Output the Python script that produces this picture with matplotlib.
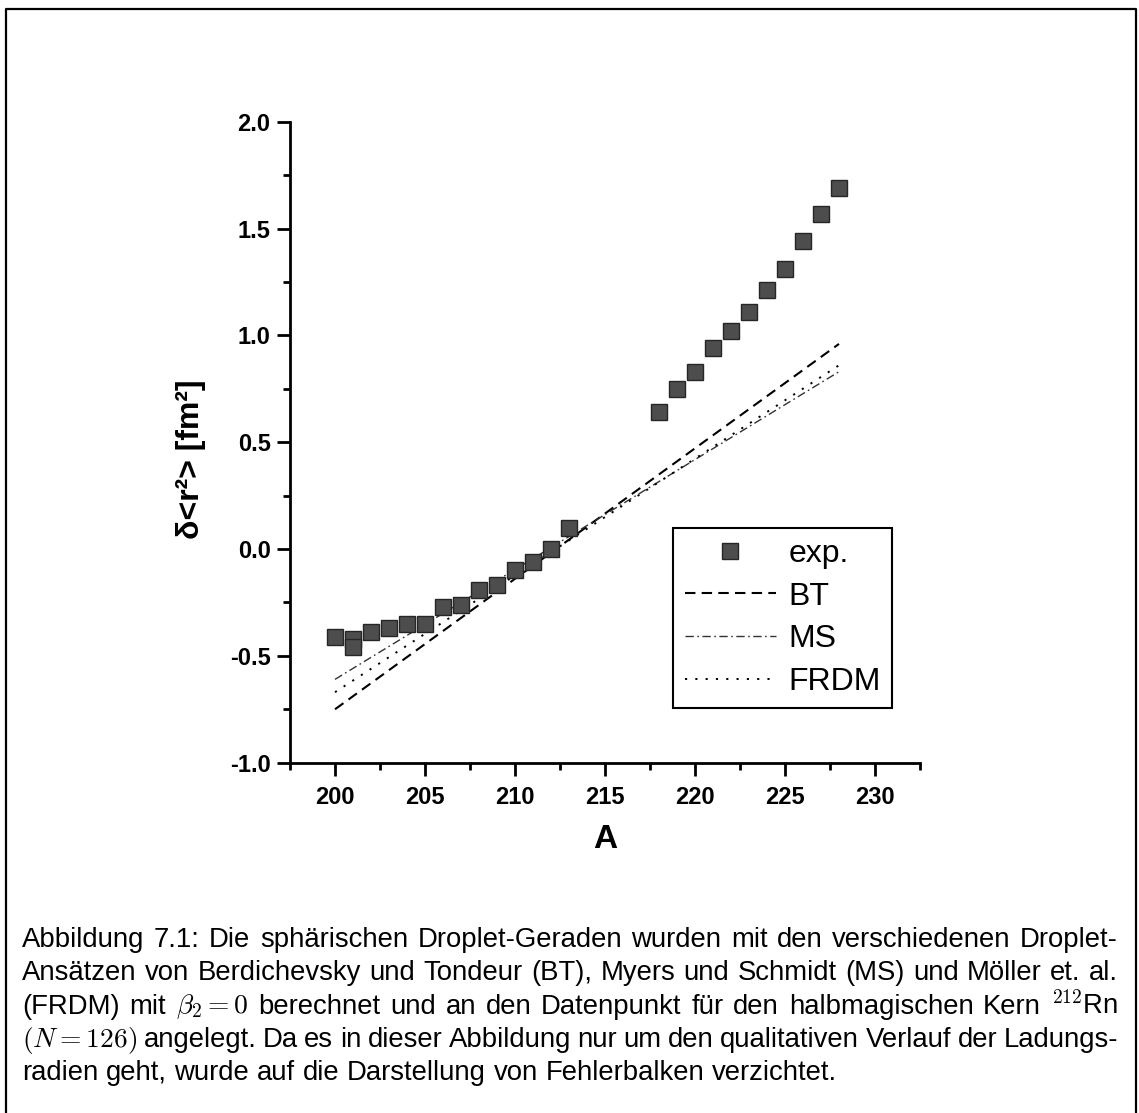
import numpy as np
import matplotlib
matplotlib.use("Agg")
from matplotlib import pyplot as plt
from matplotlib.lines import Line2D

plt.rcParams['font.family'] = ['Liberation Sans', 'DejaVu Sans']
plt.rcParams['mathtext.fontset'] = 'cm'
plt.rcParams['axes.unicode_minus'] = False

# experimental charge radii changes (relative to 212Rn)
a_exp = [200, 201, 201, 202, 203, 204, 205, 206, 207, 208, 209, 210, 211, 212, 213,
         218, 219, 220, 221, 222, 223, 224, 225, 226, 227, 228]
r2_exp = [-0.41, -0.42, -0.46, -0.39, -0.37, -0.35, -0.35, -0.27, -0.26, -0.19, -0.17,
          -0.10, -0.06, 0.0, 0.10,
          0.64, 0.75, 0.83, 0.94, 1.02, 1.11, 1.21, 1.31, 1.44, 1.57, 1.69]

# spherical droplet lines (end points)
a_drop = [200, 228]
r2_bt = [-0.75, 0.96]
r2_ms = [-0.61, 0.83]
r2_frdm = [-0.67, 0.86]

xticks = [200, 205, 210, 215, 220, 225, 230]
yticks = [-1.0, -0.5, 0.0, 0.5, 1.0, 1.5, 2.0]

caption = [
    "Abbildung 7.1: Die sphärischen Droplet-Geraden wurden mit den verschiedenen Droplet-",
    "Ansätzen von Berdichevsky und Tondeur (BT), Myers und Schmidt (MS) und Möller et. al.",
    r"(FRDM) mit $\beta_2 = 0$ berechnet und an den Datenpunkt für den halbmagischen Kern $^{212}$Rn",
    r"$(N = 126)$ angelegt. Da es in dieser Abbildung nur um den qualitativen Verlauf der Ladungs-",
    "radien geht, wurde auf die Darstellung von Fehlerbalken verzichtet.",
]

W, H = 1139, 1113
fig = plt.figure(figsize=(W / 100, H / 100), dpi=100)
ax = fig.add_axes([290 / W, 1 - 762.7 / H, 630 / W, 641 / H])

ax.plot(a_drop, r2_bt, color='black', lw=1.5, ls=(0, (5, 3.0)), label='BT')
ax.plot(a_drop, r2_ms, color='#333333', lw=1.0, ls=(0, (6, 2.5, 1.2, 2.5)), label='MS')
ax.plot(a_drop, r2_frdm, color='black', lw=1.4, ls=(0, (1.1, 4.2)), label='FRDM')
ax.plot(a_exp, r2_exp, ls='none', marker='s', ms=11, mfc='#4d4d4d', mec='#262626',
        mew=1.0, label='exp.', zorder=3)

ax.set_xlim(197.5, 232.5)
ax.set_ylim(-1.0, 2.0)
for s in ['top', 'right']:
    ax.spines[s].set_visible(False)
for s in ['left', 'bottom']:
    ax.spines[s].set_linewidth(2.0)

ax.set_xticks(xticks)
ax.set_xticks(np.arange(197.5, 233, 5), minor=True)
ax.set_yticks(yticks)
ax.set_yticks(np.arange(-0.75, 2.0, 0.5), minor=True)
ax.set_xticklabels([str(t) for t in xticks])
ax.set_yticklabels(['%.1f' % t for t in yticks])
ax.tick_params(which='major', direction='out', length=9.5, width=2.0, labelsize=17)
ax.tick_params(which='minor', direction='out', length=5, width=2.0)
ax.tick_params(axis='x', which='major', pad=7)
ax.tick_params(axis='y', which='major', pad=4.5)
for lab in ax.get_xticklabels() + ax.get_yticklabels():
    lab.set_fontweight('bold')

fig.text(605 / W, 1 - 839 / H, 'A', fontsize=24, fontweight='bold', ha='center', va='center')
fig.text(191 / W, 1 - 459 / H, 'δ<r²> [fm²]', fontsize=23, fontweight='bold',
         rotation=90, ha='center', va='center')

handles, labels = ax.get_legend_handles_labels()
order = [3, 0, 1, 2]
leg = ax.legend([handles[i] for i in order], [labels[i] for i in order],
                loc='upper right', bbox_to_anchor=(0.9556, 0.3666), borderaxespad=0,
                fontsize=23, handlelength=2.85, handletextpad=0.4, labelspacing=0.4,
                borderpad=0.35, fancybox=False, framealpha=1, edgecolor='black')
leg.get_frame().set_linewidth(1.5)

# page frame
fig.add_artist(Line2D([6 / W, 6 / W, 1136 / W, 1136 / W], [-0.01, 1 - 9 / H, 1 - 9 / H, -0.01],
                      color='black', lw=1.6))

# justified caption
x0, x1 = 22, 1118
fs = 19.8
r = fig.canvas.get_renderer()
for i, line in enumerate(caption):
    y = 1 - (947 + i * 33.3) / H
    words = line.split(' ')
    # keep math tokens together
    tokens = []
    buf = None
    for w in words:
        if buf is not None:
            buf += ' ' + w
            if w.count('$') % 2 == 1:
                tokens.append(buf)
                buf = None
        elif w.count('$') % 2 == 1:
            buf = w
        else:
            tokens.append(w)
    texts = [fig.text(0, y, t, fontsize=fs, va='baseline') for t in tokens]
    widths = [t.get_window_extent(r).width for t in texts]
    if i < len(caption) - 1:
        gap = (x1 - x0 - sum(widths)) / (len(tokens) - 1)
    else:
        gap = 0.278 * fs * 100 / 72
    x = x0
    for t, w in zip(texts, widths):
        t.set_x(x / W)
        x += w + gap

fig.savefig('out.png', dpi=100)
